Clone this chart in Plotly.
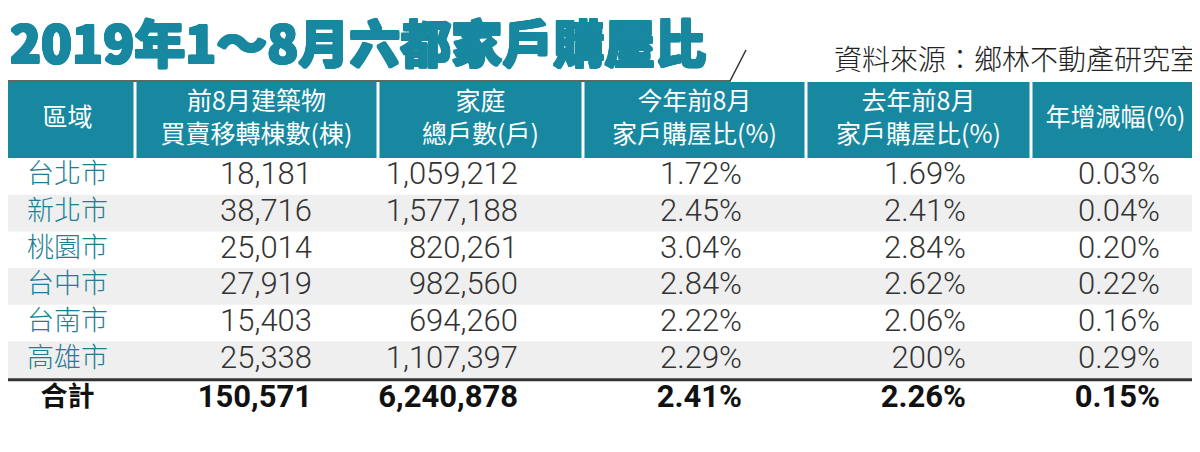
import plotly.graph_objects as go


################################
######## DATA ########
################################

title_txt = "2019年1～8月六都家戶購屋比"
source_txt = "資料來源：鄉林不動產研究室"

header_list = ["區域", "前8月建築物<br>買賣移轉棟數(棟)", "家庭<br>總戶數(戶)",
               "今年前8月<br>家戶購屋比(%)", "去年前8月<br>家戶購屋比(%)", "年增減幅(%)"]

region_list = ["台北市", "新北市", "桃園市", "台中市", "台南市", "高雄市"]
deal_count = [18181, 38716, 25014, 27919, 15403, 25338]
household_count = [1059212, 1577188, 820261, 982560, 694260, 1107397]
ratio_this_year = [1.72, 2.45, 3.04, 2.84, 2.22, 2.29]
ratio_last_year = [1.69, 2.41, 2.84, 2.62, 2.06, 2.00]
ratio_yoy = [0.03, 0.04, 0.20, 0.22, 0.16, 0.29]

total_label = "合計"
total_deal = 150571
total_household = 6240878
total_this_year = 2.41
total_last_year = 2.26
total_yoy = 0.15


################################
######## LAYOUT CONFIG ########
################################

W, H = 1200, 452
page_off = 8    # default body margin of the html page

teal = "#17889f"
teal_txt = "#1b7f96"
stripe = "#efefef"
txt_color = "#333333"

col_edges = [0, 135, 378, 583, 806, 1031, 1200]
col_pad_right = [None, 66, 65, 64, 65, 40]

header_top = 82
header_h = 76
row_h = 36.7
body_top = header_top + header_h
total_gap = 3

row_center = [body_top + row_h * (i + 0.5) for i in range(len(region_list))]
sep_y = body_top + row_h * len(region_list) + total_gap / 2
total_center = body_top + row_h * len(region_list) + total_gap + row_h / 2

font_cjk = "Noto Sans CJK TC"
font_cjk_light = "Noto Sans CJK TC Light, Noto Sans CJK TC"
font_num = "Roboto Light, Roboto, Noto Sans CJK TC"


#### cell texts
def pct(v):
    return f"{v:.2f}%"

last_year_txt = [pct(v) for v in ratio_last_year]
last_year_txt[5] = "200%"   # printed like this in the source (decimal point missing)

col_txt = [
    region_list,
    [f"{v:,}" for v in deal_count],
    [f"{v:,}" for v in household_count],
    [pct(v) for v in ratio_this_year],
    last_year_txt,
    [pct(v) for v in ratio_yoy],
]

total_txt = [total_label, f"{total_deal:,}", f"{total_household:,}",
             pct(total_this_year), pct(total_last_year), pct(total_yoy)]


################################
######## FIGURE ########
################################

fig = go.Figure()

shapes = []

#### header cells
for c in range(len(header_list)):
    shapes.append(dict(type="rect", xref="x", yref="y", layer="below",
                       x0=col_edges[c] + (1.5 if c > 0 else 0),
                       x1=col_edges[c + 1] - (1.5 if c < len(header_list) - 1 else 0),
                       y0=header_top, y1=header_top + header_h,
                       fillcolor=teal, line_width=0))

#### row stripes
for i in range(len(region_list)):
    if i % 2 == 1:
        shapes.append(dict(type="rect", xref="x", yref="y", layer="below",
                           x0=0, x1=W, y0=body_top + row_h * i, y1=body_top + row_h * (i + 1),
                           fillcolor=stripe, line_width=0))

#### separator above total
shapes.append(dict(type="line", xref="x", yref="y", x0=0, x1=W, y0=sep_y, y1=sep_y,
                   line=dict(color=txt_color, width=3)))

#### title underline with slash
shapes.append(dict(type="path", xref="x", yref="y", path="M 0 81 L 730 81 L 746 50",
                   line=dict(color=txt_color, width=1.5)))

#### header text
header_mid = header_top + header_h / 2
fig.add_trace(go.Scatter(
    x=[(col_edges[c] + col_edges[c + 1]) / 2 for c in range(len(header_list))],
    y=[header_mid] * len(header_list),
    text=header_list, mode="text",
    textposition="middle center",
    textfont=dict(family=font_cjk, size=25, color="white"),
    hoverinfo="skip", showlegend=False, cliponaxis=False,
))

#### body text
for c in range(len(header_list)):
    if c == 0:
        x_pos = (col_edges[0] + col_edges[1]) / 2
        pos = "middle center"
        fam = font_cjk_light
        size = 27
        colors = [teal_txt] * len(region_list)
    else:
        x_pos = col_edges[c + 1] - col_pad_right[c]
        pos = "middle left"
        fam = font_num
        size = 31
        colors = [txt_color] * len(region_list)

    fig.add_trace(go.Scatter(
        x=[x_pos] * len(region_list), y=row_center, text=col_txt[c], mode="text",
        textposition=pos,
        textfont=dict(family=fam, size=size, color=colors, weight=300),
        hoverinfo="skip", showlegend=False, cliponaxis=False,
    ))

    fig.add_trace(go.Scatter(
        x=[x_pos], y=[total_center], text=[total_txt[c]], mode="text",
        textposition=pos,
        textfont=dict(family=font_cjk if c == 0 else "Roboto, Noto Sans CJK TC",
                      size=size, color="#111111", weight=700),
        hoverinfo="skip", showlegend=False, cliponaxis=False,
    ))

#### title / source
halo = ", ".join(f"{dx}px {dy}px 0 {teal}" for dx, dy in
                 [(1, 0), (-1, 0), (0, 1), (0, -1), (1, 1), (-1, 1), (1, -1), (-1, -1)])
fig.add_trace(go.Scatter(
    x=[page_off + 2], y=[50], text=[title_txt], mode="text", textposition="middle right",
    textfont=dict(family=font_cjk, size=51, color=teal, weight=900, shadow=halo),
    hoverinfo="skip", showlegend=False, cliponaxis=False,
))

fig.add_trace(go.Scatter(
    x=[1198], y=[63], text=[source_txt], mode="text", textposition="middle left",
    textfont=dict(family=font_cjk_light, size=28, color="#222222", weight=300),
    hoverinfo="skip", showlegend=False, cliponaxis=False,
))

fig.update_layout(
    width=W, height=H,
    margin=dict(l=0, r=0, t=0, b=0),
    paper_bgcolor="white", plot_bgcolor="white",
    shapes=shapes,
    xaxis=dict(range=[page_off, W + page_off], visible=False, fixedrange=True),
    yaxis=dict(range=[H + page_off, page_off], visible=False, fixedrange=True),
)

fig.write_html("out.html")
